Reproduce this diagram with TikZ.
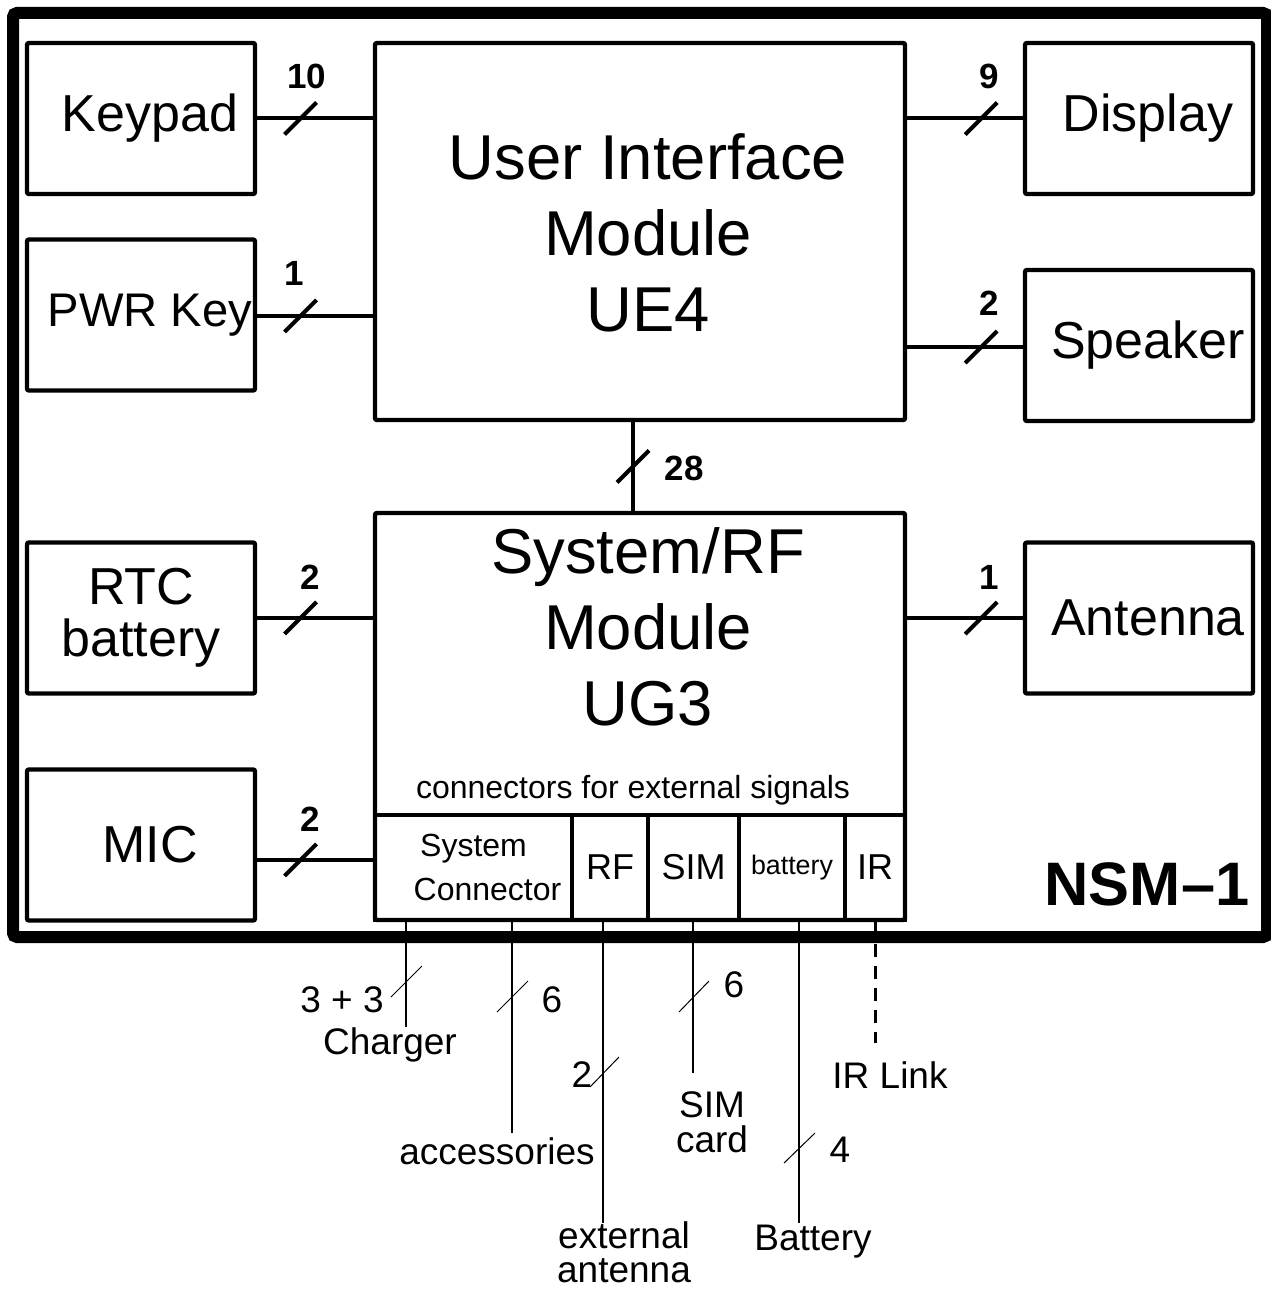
\documentclass[tikz,border=0pt]{standalone}
\usepackage{fontspec}
\setmainfont{Liberation Sans}
\usetikzlibrary{positioning}
\tikzset{
  frame/.style={line width=6pt, rounded corners=2pt},
  blk/.style ={rectangle, draw, line width=2.2pt, rounded corners=1pt, align=center,
               inner sep=0pt, minimum width=114pt, minimum height=75.5pt,
               font=\fontsize{26}{26}\selectfont},
  rsh/.style ={execute at begin node={\hspace*{9pt}}},
  core/.style={rectangle, draw, line width=2.2pt, rounded corners=1pt, align=center,
               inner sep=0pt, minimum width=265pt, font=\fontsize{31.7}{38}\selectfont},
  cell/.style={rectangle, draw, line width=1.8pt, inner sep=0pt, minimum height=52.5pt,
               align=center, font=\fontsize{18}{22}\selectfont},
  bus/.style ={line width=2pt},
  wire/.style={line width=1pt},
  tck/.style ={line width=0.5pt},
  num/.style ={font=\fontsize{17.5}{17.5}\bfseries\selectfont},
  ext/.style ={align=center, font=\fontsize{18.5}{17}\selectfont}
}

\begin{document}
\begin{tikzpicture}[x=0.5pt, y=-0.5pt]
  \useasboundingbox (0,0) rectangle (1270,1289);
  \draw[frame] (13,13) rectangle (1267,937);

  % left column
  \node[blk, rsh] (keypad) at (141,118.5) {Keypad};
  \node[blk, rsh, font=\fontsize{23.6}{26}\selectfont] (pwrkey) at (141,315) {PWR Key};
  \node[blk, font=\fontsize{26}{26}\selectfont] (rtc) at (141,618) {RTC\\battery};
  \node[blk, rsh] (mic) at (141,845) {MIC};

  % right column
  \node[blk, rsh] (display) at (1139,118.5) {Display};
  \node[blk, rsh] (speaker) at (1139,345.5) {Speaker};
  \node[blk, rsh] (antenna) at (1139,618) {Antenna};

  % modules
  \node[core, minimum height=188.5pt] (ui) at (640,231.5) {};
  \node[font=\fontsize{31.7}{38}\selectfont, align=center] (uit) at (648,233) {User Interface\\Module\\UE4};
  \node[core, minimum height=203.5pt] (sysrf) at (640,716.5) {};
  \node[font=\fontsize{31.7}{38}\selectfont, align=center] (sysrft) at (648,627) {System/RF\\Module\\UG3};
  \node[font=\fontsize{16}{16}\selectfont] (extsig) at (633,790) {connectors for external signals};

  % connector cells
  \node[cell, minimum width=98.5pt, font=\fontsize{16}{22}\selectfont] (sysconn) at (473.5,867.5) {System\\\hspace*{14pt}Connector};
  \node[cell, minimum width=38pt] (rfconn) at (610,867.5) {RF};
  \node[cell, minimum width=45.5pt] (simconn) at (693.5,867.5) {SIM};
  \node[cell, minimum width=53pt, font=\fontsize{13.4}{16}\selectfont] (batconn) at (792,867.5) {battery};
  \node[cell, minimum width=30pt] (irconn) at (875,867.5) {IR};

  \node[font=\fontsize{30.7}{30.7}\bfseries\selectfont] (nsm) at (1147,884) {NSM–1};

  % buses
  \draw[bus] (keypad.east) -- coordinate[pos=.375] (s1) (ui.west |- keypad.east);
  \draw[bus] (s1) +(-16,16) -- +(16,-16);
  \path (s1) ++(6,-42) node[num] (n1) {10};

  \coordinate (pwrline) at (0,316);
  \draw[bus] (pwrkey.east |- pwrline) -- coordinate[pos=.375] (s2) (ui.west |- pwrline);
  \draw[bus] (s2) +(-16,16) -- +(16,-16);
  \path (s2) ++(-6,-43) node[num] (n2) {1};

  \draw[bus] (ui.east |- display.west) -- coordinate[pos=.64] (s3) (display.west);
  \draw[bus] (s3) +(-16,16) -- +(16,-16);
  \path (s3) ++(8,-42) node[num] (n3) {9};

  \coordinate (spkline) at (0,347);
  \draw[bus] (ui.east |- spkline) -- coordinate[pos=.64] (s4) (speaker.west |- spkline);
  \draw[bus] (s4) +(-16,16) -- +(16,-16);
  \path (s4) ++(8,-44) node[num] (n4) {2};

  \coordinate (midbus) at (633,0);
  \draw[bus] (ui.south -| midbus) -- coordinate[pos=.5] (s5) (sysrf.north -| midbus);
  \draw[bus] (s5) +(-16,16) -- +(16,-16);
  \path (s5) ++(51,2) node[num] (n5) {28};

  \draw[bus] (rtc.east) -- coordinate[pos=.375] (s6) (sysrf.west |- rtc.east);
  \draw[bus] (s6) +(-16,16) -- +(16,-16);
  \path (s6) ++(10,-41) node[num] (n6) {2};

  \draw[bus] (sysrf.east |- antenna.west) -- coordinate[pos=.64] (s7) (antenna.west);
  \draw[bus] (s7) +(-16,16) -- +(16,-16);
  \path (s7) ++(8,-41) node[num] (n7) {1};

  \coordinate (micline) at (0,860);
  \draw[bus] (mic.east |- micline) -- coordinate[pos=.375] (s8) (sysrf.west |- micline);
  \draw[bus] (s8) +(-16,16) -- +(16,-16);
  \path (s8) ++(10,-41) node[num] (n8) {2};

  % external signals
  \coordinate (chgend) at (406,1027);
  \coordinate (accend) at (512,1133);
  \coordinate (antend) at (603,1223);
  \coordinate (simend) at (693,1073);
  \coordinate (batend) at (799,1223);
  \coordinate (irend)  at (875,1043);

  \draw[wire, line width=1.4pt] (sysconn.south -| chgend) -- (chgend);
  \draw[tck] (406,981) +(-15,16) -- +(16,-15);
  \node[ext] (chgnum) at (342,1000) {3 + 3};
  \node[ext] (charger) at (390,1045) {Charger};

  \draw[wire] (sysconn.south -| accend) -- (accend);
  \draw[tck] (512,996) +(-15,16) -- +(16,-15);
  \node[ext] (accnum) at (552,1000) {6};
  \node[ext] (acc) at (497,1151) {accessories};

  \draw[wire] (rfconn.south -| antend) -- (antend);
  \draw[tck] (603,1072) +(-13,15) -- +(16,-15);
  \node[ext] (antnum) at (582,1075) {2};
  \node[ext] (extant) at (624,1252) {external\\antenna};

  \draw[wire] (simconn.south -| simend) -- (simend);
  \draw[tck] (693,996) +(-14,16) -- +(16,-15);
  \node[ext] (simnum) at (734,985) {6};
  \node[ext, font=\fontsize{18.5}{17.5}\selectfont] (simcard) at (712,1122) {SIM\\card};

  \draw[wire] (batconn.south -| batend) -- (batend);
  \draw[tck] (799,1148) +(-15,15) -- +(16,-15);
  \node[ext] (batnum) at (840,1150) {4};
  \node[ext] (battery) at (813,1242) {Battery};

  \draw[wire, line width=1.5pt, dash pattern=on 6.5pt off 4.5pt] (irconn.south -| irend) -- (irend);
  \node[ext] (irlink) at (890,1075) {IR Link};
\end{tikzpicture}
\end{document}
